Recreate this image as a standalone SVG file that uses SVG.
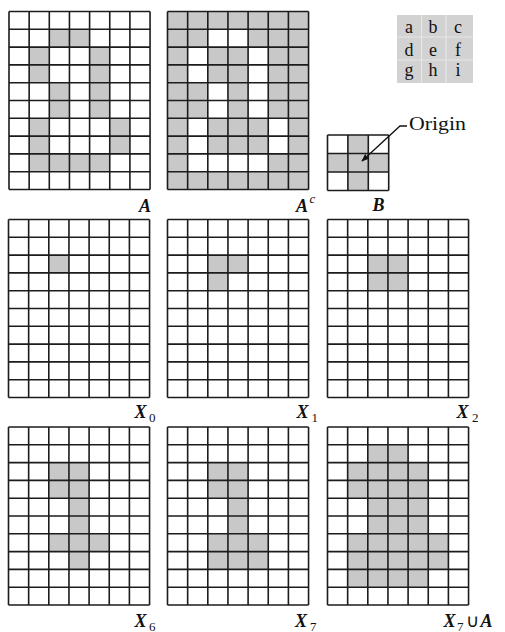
<svg xmlns="http://www.w3.org/2000/svg" xmlns:xlink="http://www.w3.org/1999/xlink" width="505" height="632" viewBox="0 0 505 632">
<style>
.bg{fill:#ffffff}
.g{fill:#c8c8c8}
.w{fill:#ffffff}
.grid{fill:none;stroke:#1c1c1c;stroke-width:1.6}
.lbl{font-family:"Liberation Serif","Times New Roman",serif;font-weight:bold;font-style:italic;font-size:18px;fill:#111}
.sub{font-family:"Liberation Serif","Times New Roman",serif;font-size:13px;fill:#111}
.txt{font-family:"Liberation Serif","Times New Roman",serif;font-size:18px;fill:#111}
.conn{fill:none;stroke:#111;stroke-width:1.3}
</style>
<defs>
<rect id="c" width="20.15" height="17.8"/>
<path id="grid" class="grid" d="M0,0V178M20.15,0V178M40.3,0V178M60.45,0V178M80.6,0V178M100.75,0V178M120.9,0V178M141.05,0V178M0,0H141.05M0,17.8H141.05M0,35.6H141.05M0,53.4H141.05M0,71.2H141.05M0,89H141.05M0,106.8H141.05M0,124.6H141.05M0,142.4H141.05M0,160.2H141.05M0,178H141.05"/>
<marker id="ah" viewBox="0 0 10 10" refX="9" refY="5" markerWidth="6" markerHeight="6" orient="auto"><path d="M0,1 L10,5 L0,9 Z" fill="#111"/></marker>
</defs>
<rect class="bg" width="505" height="632"/>

<g id="A" transform="translate(9,11.5)">
<g class="g">
<use href="#c" x="40.3" y="17.8"/><use href="#c" x="60.45" y="17.8"/>
<use href="#c" x="20.15" y="35.6"/><use href="#c" x="80.6" y="35.6"/>
<use href="#c" x="20.15" y="53.4"/><use href="#c" x="80.6" y="53.4"/>
<use href="#c" x="40.3" y="71.2"/><use href="#c" x="80.6" y="71.2"/>
<use href="#c" x="40.3" y="89"/><use href="#c" x="80.6" y="89"/>
<use href="#c" x="20.15" y="106.8"/><use href="#c" x="100.75" y="106.8"/>
<use href="#c" x="20.15" y="124.6"/><use href="#c" x="100.75" y="124.6"/>
<rect x="20.15" y="142.4" width="80.6" height="17.8"/>
</g>
<use href="#grid"/>
<text class="lbl" x="130" y="200">A</text>
</g>

<g id="Ac" transform="translate(167.5,11.5)">
<rect class="g" width="141.05" height="178"/>
<g class="w">
<use href="#c" x="40.3" y="17.8"/><use href="#c" x="60.45" y="17.8"/>
<use href="#c" x="20.15" y="35.6"/><use href="#c" x="80.6" y="35.6"/>
<use href="#c" x="20.15" y="53.4"/><use href="#c" x="80.6" y="53.4"/>
<use href="#c" x="40.3" y="71.2"/><use href="#c" x="80.6" y="71.2"/>
<use href="#c" x="40.3" y="89"/><use href="#c" x="80.6" y="89"/>
<use href="#c" x="20.15" y="106.8"/><use href="#c" x="100.75" y="106.8"/>
<use href="#c" x="20.15" y="124.6"/><use href="#c" x="100.75" y="124.6"/>
<rect x="20.15" y="142.4" width="80.6" height="17.8"/>
</g>
<use href="#grid"/>
<text class="lbl" x="128.5" y="200">A</text>
<text class="sub" x="142" y="191.5" font-style="italic">c</text>
</g>

<g id="neighborhood">
<rect x="397" y="15" width="76" height="68" fill="#d2d2d2"/>
<path d="M421.5,15V83M446,15V83M397,37H473M397,60H473" stroke="#e6e6e6" stroke-width="1.2" fill="none"/>
<g class="txt" font-size="20" text-anchor="middle">
<text x="409" y="33">a</text><text x="433" y="33">b</text><text x="458" y="33">c</text>
<text x="409" y="55.5">d</text><text x="433" y="55.5">e</text><text x="458" y="55.5">f</text>
<text x="409" y="76">g</text><text x="433" y="76">h</text><text x="458" y="76">i</text>
</g>
</g>

<g id="B" transform="translate(327.5,135)">
<g class="g">
<rect x="20.4" y="0" width="20.4" height="18.5"/>
<rect x="0" y="18.5" width="61.2" height="18.5"/>
<rect x="20.4" y="37" width="20.4" height="18.5"/>
</g>
<path class="grid" d="M0,0V55.5M20.4,0V55.5M40.8,0V55.5M61.2,0V55.5M0,0H61.2M0,18.5H61.2M0,37H61.2M0,55.5H61.2"/>
<text class="lbl" x="45" y="75.5">B</text>
</g>

<g id="origin-label">
<text class="txt" x="409" y="130" textLength="57" lengthAdjust="spacingAndGlyphs">Origin</text>
</g>

<g id="connectors">
<path class="conn" d="M407,126 L400,126 L362,161" marker-end="url(#ah)"/>
</g>

<g id="X0" transform="translate(8.5,219.5)">
<g class="g"><use href="#c" x="40.3" y="35.6"/></g>
<use href="#grid"/>
<text class="lbl" x="126" y="198">X</text><text class="sub" x="140.5" y="202">0</text>
</g>

<g id="X1" transform="translate(167.5,219.5)">
<g class="g"><use href="#c" x="40.3" y="35.6"/><use href="#c" x="60.45" y="35.6"/><use href="#c" x="40.3" y="53.4"/></g>
<use href="#grid"/>
<text class="lbl" x="129" y="198">X</text><text class="sub" x="144" y="202">1</text>
</g>

<g id="X2" transform="translate(327.5,219.5)">
<g class="g"><rect x="40.3" y="35.6" width="40.3" height="35.6"/></g>
<use href="#grid"/>
<text class="lbl" x="129" y="198">X</text><text class="sub" x="144.5" y="202">2</text>
</g>

<g id="X6" transform="translate(8.5,427)">
<g class="g">
<rect x="40.3" y="35.6" width="40.3" height="35.6"/>
<rect x="60.45" y="71.2" width="20.15" height="35.6"/>
<rect x="40.3" y="106.8" width="60.45" height="17.8"/>
<use href="#c" x="60.45" y="124.6"/>
</g>
<use href="#grid"/>
<text class="lbl" x="126" y="199.5">X</text><text class="sub" x="140.5" y="203.5">6</text>
</g>

<g id="X7" transform="translate(167.5,427)">
<g class="g">
<rect x="40.3" y="35.6" width="40.3" height="35.6"/>
<rect x="60.45" y="71.2" width="20.15" height="35.6"/>
<rect x="40.3" y="106.8" width="60.45" height="35.6"/>
</g>
<use href="#grid"/>
<text class="lbl" x="127.5" y="199.5">X</text><text class="sub" x="142.5" y="203.5">7</text>
</g>

<g id="X7uA" transform="translate(327.5,427)">
<g class="g">
<rect x="40.3" y="17.8" width="40.3" height="17.8"/>
<rect x="20.15" y="35.6" width="80.6" height="35.6"/>
<rect x="40.3" y="71.2" width="60.45" height="35.6"/>
<rect x="20.15" y="106.8" width="100.75" height="35.6"/>
<rect x="20.15" y="142.4" width="80.6" height="17.8"/>
</g>
<use href="#grid"/>
<text class="lbl" x="116" y="199.5">X</text><text class="sub" x="129.5" y="203.5">7</text>
<text class="txt" x="138.5" y="199.5">∪</text>
<text class="lbl" x="153" y="199.5">A</text>
</g>
</svg>
